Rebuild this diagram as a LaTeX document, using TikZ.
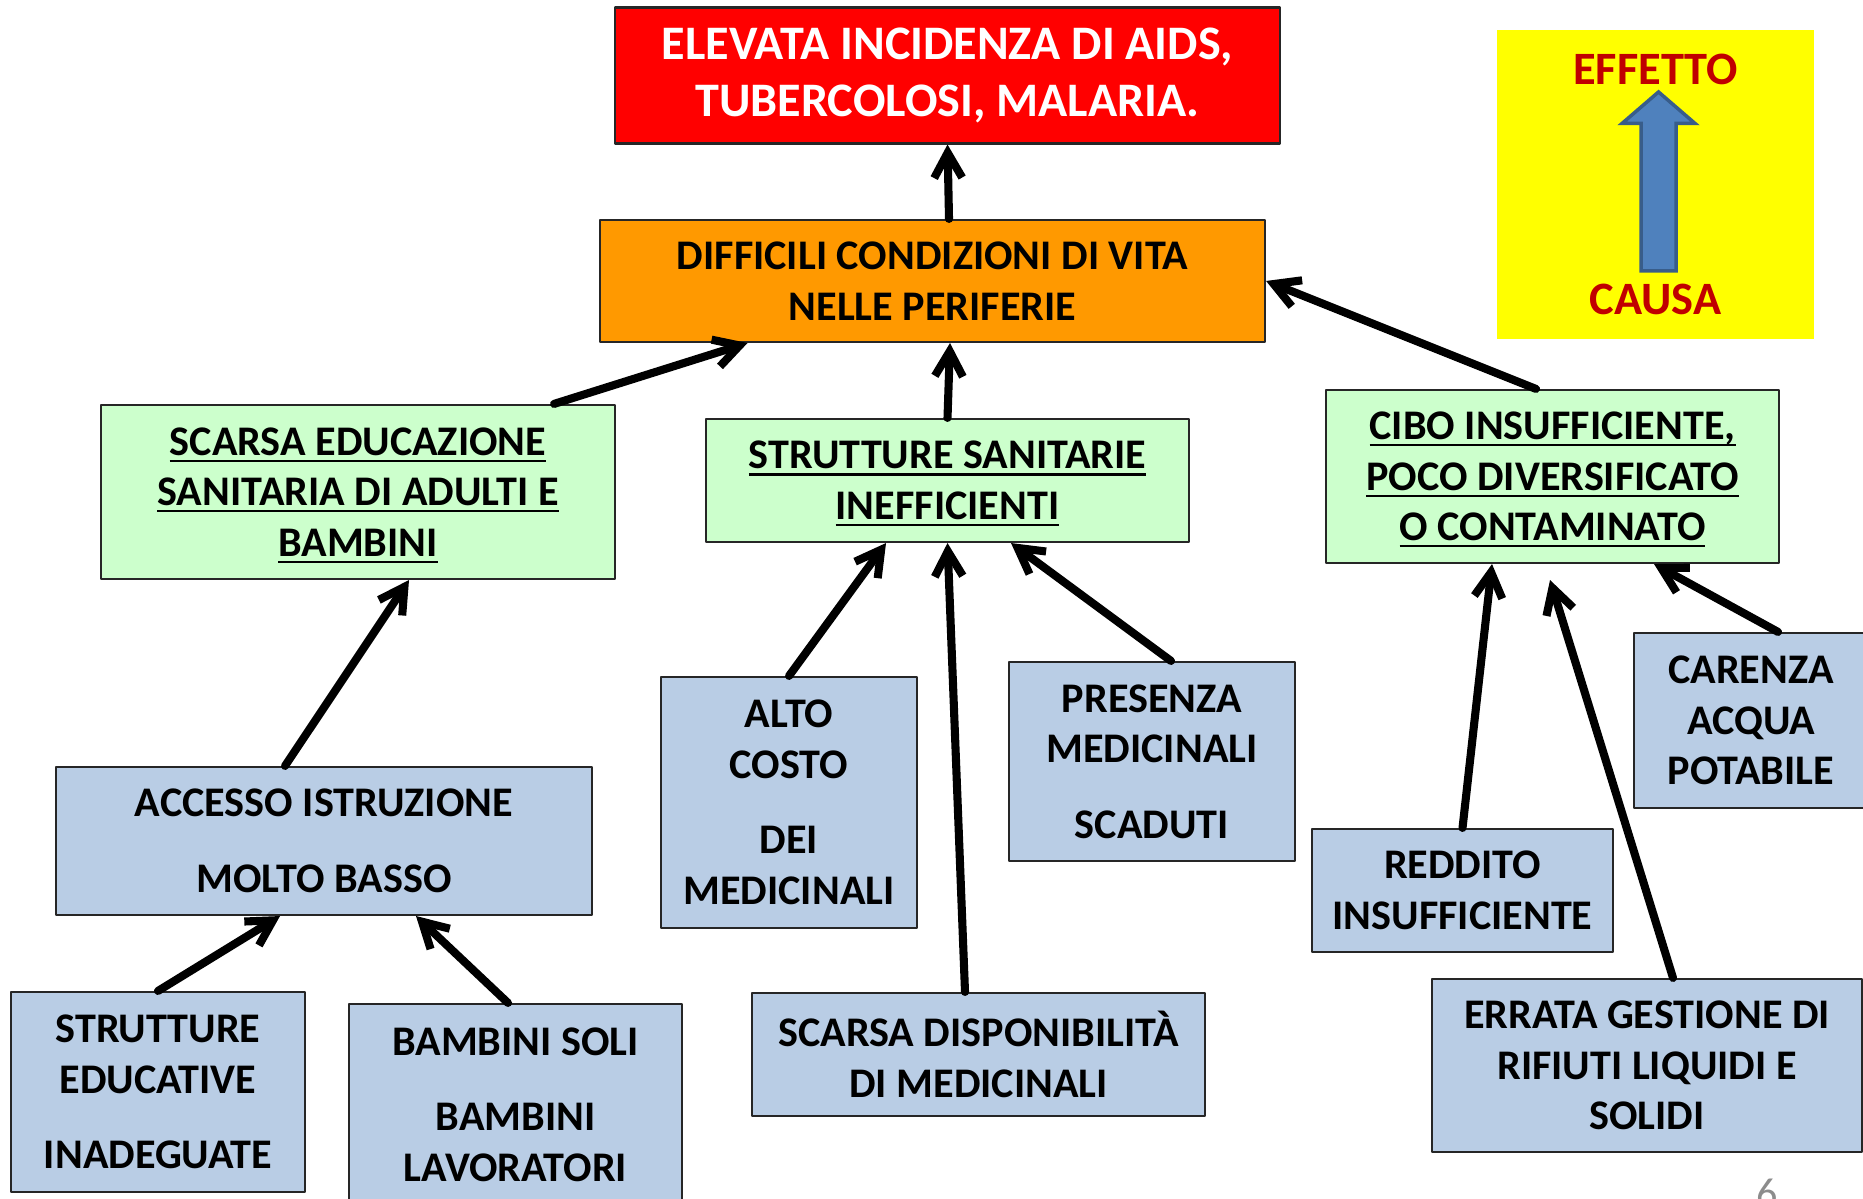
\documentclass[tikz,border=0pt]{standalone}
\usepackage{fontspec}
\setmainfont{Carlito}
\newsavebox{\rigatesto}
\newcommand{\sottolinea}[1]{\leavevmode\sbox{\rigatesto}{#1}\smash{\rlap{\vrule width\wd\rigatesto height -1.3pt depth 1.9pt}}\usebox{\rigatesto}}
\usetikzlibrary{arrows.meta}
\definecolor{rosso}{HTML}{FF0000}
\definecolor{arancio}{HTML}{FF9900}
\definecolor{verde}{HTML}{CCFFCC}
\definecolor{azzurro}{HTML}{B9CDE5}
\definecolor{giallo}{HTML}{FFFF00}
\definecolor{scritta}{HTML}{C00000}
\definecolor{freccia}{HTML}{4F81BD}
\definecolor{bordofreccia}{HTML}{385D8A}
\begin{document}
\begin{tikzpicture}[line join=round, line cap=round, font=\bfseries\fontsize{12}{14.4}\selectfont]
            \tikzset{box/.style={draw=black!85, line width=0.6pt, align=center, inner sep=0pt},
              verdebox/.style={box, fill=verde},
              azzurrobox/.style={box, fill=azzurro},
              grande/.style={font=\bfseries\fontsize{13.2}{15.8}\selectfont},
              causa/.style={-{Straight Barb[length=2.5mm,width=2.8mm]}, line width=2.3pt}}
            \useasboundingbox (0,0) rectangle (18.63,11.99);
            \clip (0,0) rectangle (18.63,11.99);
            \node[box, fill=rosso, text=white, font=\bfseries\fontsize{13.7}{16.4}\selectfont, minimum width=6.65cm, minimum height=1.36cm] (aids) at (9.475,11.235) {ELEVATA INCIDENZA DI AIDS,\\TUBERCOLOSI, MALARIA.};
            \node[box, fill=arancio, minimum width=6.65cm, minimum height=1.22cm] (periferie) at (9.325,9.18) {DIFFICILI CONDIZIONI DI VITA\\NELLE PERIFERIE};
            \node[fill=giallo, minimum width=3.17cm, minimum height=3.09cm] (legenda) at (16.555,10.145) {};
            \node[grande, text=scritta] (effetto) at (16.555,11.30) {EFFETTO};
            \node[grande, text=scritta] (causa) at (16.555,9.0) {CAUSA};
            \draw[fill=freccia, draw=bordofreccia, line width=1pt, line join=miter] (16.41,9.28) -- (16.41,10.755) -- (16.22,10.755) -- (16.585,11.07) -- (16.95,10.755) -- (16.76,10.755) -- (16.76,9.28) -- cycle;
            \node[verdebox, minimum width=5.14cm, minimum height=1.74cm] (educ) at (3.58,7.07) {\sottolinea{SCARSA EDUCAZIONE}\\\sottolinea{SANITARIA DI ADULTI E}\\\sottolinea{BAMBINI}};
            \node[verdebox, minimum width=4.83cm, minimum height=1.23cm] (strutt) at (9.475,7.185) {\sottolinea{STRUTTURE SANITARIE}\\\sottolinea{INEFFICIENTI}};
            \node[verdebox, minimum width=4.53cm, minimum height=1.73cm] (cibo) at (15.525,7.225) {\sottolinea{CIBO INSUFFICIENTE,}\\\sottolinea{POCO DIVERSIFICATO}\\\sottolinea{O CONTAMINATO}};
            \node[azzurrobox, minimum width=5.36cm, minimum height=1.48cm] (accesso) at (3.24,3.58) {ACCESSO ISTRUZIONE\\[2.5mm]MOLTO BASSO};
            \node[azzurrobox, minimum width=2.56cm, minimum height=2.51cm] (costo) at (7.89,3.965) {ALTO\\COSTO\\[2.5mm]DEI\\MEDICINALI};
            \node[azzurrobox, minimum width=2.86cm, minimum height=1.99cm] (scaduti) at (11.52,4.375) {PRESENZA\\MEDICINALI\\[2.5mm]SCADUTI};
            \node[azzurrobox, minimum width=3.01cm, minimum height=1.23cm] (reddito) at (14.625,3.085) {REDDITO\\INSUFFICIENTE};
            \node[azzurrobox, minimum width=2.34cm, minimum height=1.75cm] (acqua) at (17.51,4.785) {CARENZA\\ACQUA\\POTABILE};
            \node[azzurrobox, minimum width=2.94cm, minimum height=2.00cm] (edifici) at (1.58,1.07) {STRUTTURE\\EDUCATIVE\\[2.5mm]INADEGUATE};
            \node[azzurrobox, minimum width=3.33cm, minimum height=2.01cm] (bambini) at (5.155,0.945) {BAMBINI SOLI\\[2.5mm]BAMBINI\\LAVORATORI};
            \node[azzurrobox, minimum width=4.53cm, minimum height=1.23cm] (farmaci) at (9.785,1.445) {SCARSA DISPONIBILITÀ\\DI MEDICINALI};
            \node[azzurrobox, minimum width=4.30cm, minimum height=1.73cm] (rifiuti) at (16.47,1.335) {ERRATA GESTIONE DI\\RIFIUTI LIQUIDI E\\SOLIDI};
            \node[text=black!45, font=\fontsize{12}{14}\selectfont, anchor=north, inner sep=0pt] (pagina) at (17.67,0.21) {6};
            \draw[causa] ([xshift=1.65mm]periferie.north) -- (aids.south);
            \draw[causa] ([xshift=19.6mm]educ.north) -- ([xshift=-18.5mm]periferie.south);
            \draw[causa] (strutt.north) -- ([xshift=1.75mm]periferie.south);
            \draw[causa] ([xshift=-1.65mm]cibo.north) -- (periferie.east);
            \draw[causa] ([xshift=-3.9mm]accesso.north) -- ([xshift=5.1mm]educ.south);
            \draw[causa] (edifici.north) -- ([xshift=-4.4mm]accesso.south);
            \draw[causa] ([xshift=-0.75mm]bambini.north) -- ([xshift=9.2mm]accesso.south);
            \draw[causa] (costo.north) -- ([xshift=-6.15mm]strutt.south);
            \draw[causa] ([xshift=-1.35mm]farmaci.north) -- (strutt.south);
            \draw[causa] ([xshift=1.9mm]scaduti.north) -- ([xshift=6.35mm]strutt.south);
            \draw[causa] (reddito.north) -- ([xshift=-6.05mm]cibo.south);
            \draw[causa] ([xshift=2.6mm]rifiuti.north) -- ([xshift=-0.25mm,yshift=-1.6mm]cibo.south);
            \draw[causa] ([xshift=2.7mm]acqua.north) -- ([xshift=10.15mm]cibo.south);
        \end{tikzpicture}
\end{document}
